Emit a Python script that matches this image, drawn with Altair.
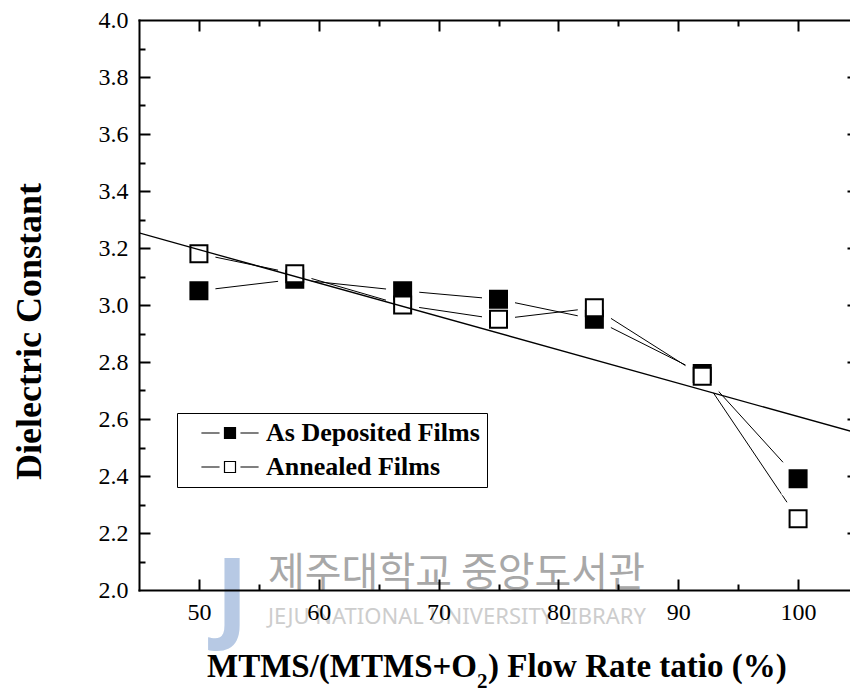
import altair as alt
import pandas as pd

# MTMS/(MTMS+O2) flow-rate ratio (%) and measured dielectric constants
ratio = [50, 58, 67, 75, 83, 92, 100]
k_deposited = [3.05, 3.09, 3.05, 3.02, 2.95, 2.76, 2.39]
k_annealed = [3.18, 3.11, 3.00, 2.95, 2.99, 2.75, 2.25]
series = ["As Deposited Films", "Annealed Films"]

# axis ranges and tick values
x_domain = [45, 105]
y_domain = [2.0, 4.0]
x_major = [50, 60, 70, 80, 90, 100]
x_minor = [55, 65, 75, 85, 95]
y_major = [2.0, 2.2, 2.4, 2.6, 2.8, 3.0, 3.2, 3.4, 3.6, 3.8, 4.0]
y_minor = [2.1, 2.3, 2.5, 2.7, 2.9, 3.1, 3.3, 3.5, 3.7, 3.9]

W, H = 719, 570
SERIF = "Liberation Serif"

rows = []
for name, vals in zip(series, [k_deposited, k_annealed]):
    for r, v in zip(ratio, vals):
        rows.append({"ratio": r, "k": v, "series": name})
df = pd.DataFrame(rows)

x_scale = alt.Scale(domain=x_domain, nice=False, zero=False)
y_scale = alt.Scale(domain=y_domain, nice=False, zero=False)

X_MAJOR_TEST = "datum.value % 10 === 0"
Y_MAJOR_TEST = "round(datum.value * 10) % 2 === 0"


def frame_axis(orient, offset, values, major_test):
    """Frame edge with inward-pointing ticks (long major, short minor)."""
    return alt.Axis(
        orient=orient, offset=offset, values=values, labels=False, title=None,
        grid=False, ticks=True, tickSize=11, tickWidth=2, tickColor="black",
        tickDash={"condition": {"test": major_test, "value": [20, 0]}, "value": [6, 20]},
        domain=True, domainColor="black", domainWidth=2, domainCap="square", zindex=2,
    )


x_inner_ticks = x_major + x_minor
y_inner_ticks = y_major[1:-1] + y_minor

# connecting lines of each series
lines = alt.Chart(df).mark_line(color="black", strokeWidth=1, clip=True).encode(
    x=alt.X("ratio:Q", scale=x_scale, axis=alt.Axis(
        orient="bottom", values=x_major, format="d", ticks=False, tickSize=0,
        domain=False, grid=False, labelPadding=10, labelFont=SERIF, labelFontSize=24,
        labelColor="black", labelFlush=False, labelOverlap=False, title=None, zindex=2)),
    y=alt.Y("k:Q", scale=y_scale, axis=alt.Axis(
        orient="left", values=y_major, format=".1f", ticks=False, tickSize=0,
        domain=False, grid=False, labelPadding=11, labelFont=SERIF, labelFontSize=24,
        labelColor="black", labelOverlap=False, title="Dielectric Constant",
        titleFont=SERIF, titleFontSize=36, titleFontWeight="bold", titleColor="black",
        titleX=-99, titleY=311, titleAngle=270, titleBaseline="alphabetic",
        titleAlign="center", zindex=2)),
    detail="series:N",
)

# white gaps around the symbols
halos = alt.Chart(df).mark_point(
    shape="square", filled=True, color="white", size=1089, opacity=1
).encode(
    x=alt.X("ratio:Q", scale=x_scale, axis=frame_axis("top", -H, x_inner_ticks, X_MAJOR_TEST)),
    y=alt.Y("k:Q", scale=y_scale, axis=frame_axis("right", -W, y_inner_ticks, Y_MAJOR_TEST)),
)

legend = alt.Legend(
    title=None, orient="none", legendX=38, legendY=393, direction="vertical",
    symbolType="M-5.2,0H-1.9M1.9,0H5.2M-1,-1H1V1H-1Z", symbolSize=121,
    symbolStrokeColor="black", symbolStrokeWidth=1.2, symbolOffset=33,
    labelOffset=23, labelFont=SERIF, labelFontSize=26, labelFontWeight="bold",
    labelColor="black", labelLimit=0, padding=7, rowPadding=8,
    strokeColor="black", fillColor="white", cornerRadius=0,
)

markers = alt.Chart(df).mark_point(
    shape="square", filled=True, size=289, stroke="black", strokeWidth=2, opacity=1
).encode(
    x=alt.X("ratio:Q", scale=x_scale, axis=frame_axis("bottom", -H, x_inner_ticks, X_MAJOR_TEST)),
    y=alt.Y("k:Q", scale=y_scale, axis=frame_axis("left", -W, y_inner_ticks, Y_MAJOR_TEST)),
    fill=alt.Fill("series:N", scale=alt.Scale(domain=series, range=["black", "white"]),
                  legend=legend),
)

# least-squares line through the as-deposited data
trend = alt.Chart(df).transform_filter(
    alt.datum.series == series[0]
).transform_regression(
    "ratio", "k", extent=x_domain
).mark_line(color="black", strokeWidth=1.3, clip=True).encode(
    x=alt.X("ratio:Q", scale=x_scale, axis=None),
    y=alt.Y("k:Q", scale=y_scale, axis=None),
)

one = pd.DataFrame({"n": [0]})


def text_at(text, x, y, size, font=SERIF, weight="bold", color="black",
            align="left", baseline="alphabetic", opacity=1.0):
    return alt.Chart(one).mark_text(
        text=text, font=font, fontSize=size, fontWeight=weight, color=color,
        align=align, baseline=baseline, opacity=opacity,
    ).encode(x=alt.value(x), y=alt.value(y))


# x-axis title with subscript
title_a = text_at("MTMS/(MTMS+O", 338, 657, 33, align="right")
title_b = text_at("2", 338, 668, 21)
title_c = text_at(") Flow Rate tatio (%)", 349, 657, 33)

# library stamp
stamp_logo = text_at("J", 93, 610, 100, font="Noto Sans", color="#9fb8dc",
                     align="center", opacity=0.75)
stamp_ko = text_at("제주대학교 중앙도서관", 129, 554, 40, font="Noto Sans CJK KR",
                   weight="normal", color="#a8a8a8", baseline="middle")
stamp_en = text_at("JEJU NATIONAL UNIVERSITY LIBRARY", 129, 597, 22, font="Noto Sans",
                   weight="normal", color="#cdcdcd", baseline="middle")

chart = alt.layer(
    stamp_logo, stamp_ko, stamp_en, lines, halos, markers, trend,
    title_a, title_b, title_c
).resolve_axis(
    x="independent", y="independent"
).properties(
    width=W, height=H,
    padding={"left": 139, "top": 20, "right": -8, "bottom": 103},
    autosize=alt.AutoSizeParams(type="none"),
    background="white",
).configure_view(stroke=None).configure_axis(
    labelFont=SERIF, labelFontSize=24, labelColor="black", titleFont=SERIF
)

chart.save("out.html", embed_options={"renderer": "svg", "actions": False})
